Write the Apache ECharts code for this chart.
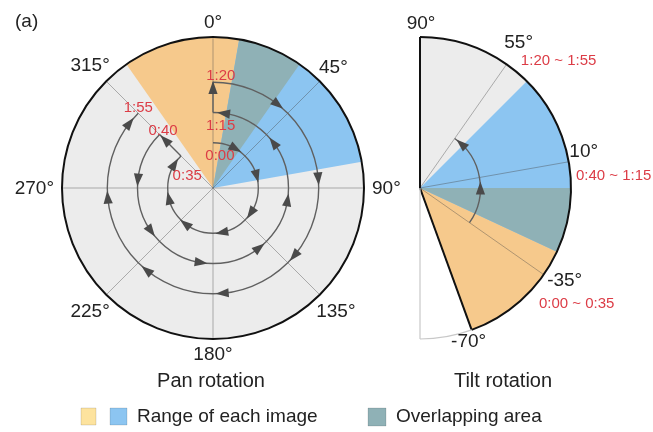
<!DOCTYPE html>
<html><head><meta charset="utf-8">
<script src="https://cdn.jsdelivr.net/npm/echarts@6/dist/echarts.min.js"></script>
<style>html,body{margin:0;padding:0;background:#fff}#c{width:653px;height:432px}</style>
</head><body><div id="c"></div>
<script>
// ---------------- data ----------------
// Pan rotation (compass degrees, clockwise from north)
const panTicks = [0, 45, 90, 135, 180, 225, 270, 315];
const panFullRange = [0, 360];
const panImageA = [-35, 35];     // 0:00 ~ 0:35 image range
const panImageB = [10, 80];      // 0:40 ~ 1:15 image range
const panOverlap = [10, 35];
// spiral path: [ring radius (fraction), start angle, end angle]
const spiralArcs = [[0.3, 0, 315], [0.5, 315, 0], [0.7, 0, 315]];
// radial jumps: [angle, from radius, to radius]
const spiralRadials = [[315, 0.3, 0.5], [0, 0.5, 0.7]];
const innerArrows = [30, 75, 124, 169, 218, 257, 302];
const midArrows = [8, 53, 99, 142, 189, 235, 276];
const outerArrows = [38, 85, 130, 175, 219, 265, 308];
const radialArrows = [[315, 0.45], [0, 0.665]];
const panTimeLabels = ['0:00', '0:35', '0:40', '1:15', '1:20', '1:55'];
const panTimeAnchors = [[0.22, 12], [0.19, 296], [0.505, 319], [0.415, 7], [0.745, 4], [0.725, 317]];

// Tilt rotation (degrees above horizontal)
const tiltRange = [-70, 90];
const tiltHidden = [-90, -70];
const tiltImageA = [-70, 0];     // 0:00 ~ 0:35
const tiltImageB = [-25, 45];    // 0:40 ~ 1:15
const tiltOverlap = [-25, 0];
const tiltTicks = [90, 55, 10, -35, -70];
const tiltTickLabels = ['90°', '55°', '10°', '-35°', '-70°'];
const tiltTimeLabels = ['', '1:20 ~ 1:55', '0:40 ~ 1:15', '0:00 ~ 0:35', ''];
const tiltArc = [0.4, -35, 55];
const tiltArrows = [0, 47];

const titles = ['Pan rotation', 'Tilt rotation'];
const legendLabels = ['Range of each image', 'Overlapping area'];

// ---------------- styles / layout ----------------
const FONT = 'Liberation Sans, Arial, Helvetica, sans-serif';
const C = {gray: '#ececec', orange: '#f6c98c', blue: '#8cc5f1', teal: '#8fb1b6', yellow: '#fde39e',
  red: '#dc3c46', line: '#606060', arrow: '#4a4a4a', text: '#222222'};
const tiltLabelOffsets = [[1, -13], [12, -22], [15, -10], [21, 6], [-3, 12]];
const tiltTimeOffsets = [[0, 0], [52, -3], [45, 14], [33, 29], [0, 0]];

const measureCtx = document.createElement('canvas').getContext('2d');
function textWidth(t, size) { measureCtx.font = size + 'px ' + FONT; return measureCtx.measureText(t).width; }

function helpers(params, api) {
  const cs = params.coordSys, cx = cs.cx, cy = cs.cy;
  const P = (r, a) => api.coord([r, a]);
  const canv = (a) => { const p = P(1, a); return Math.atan2(p[1] - cy, p[0] - cx); };
  const R = (r) => { const p = P(r, 0); return Math.hypot(p[0] - cx, p[1] - cy); };
  let d = canv(1) - canv(0);
  while (d > Math.PI) d -= 2 * Math.PI;
  while (d < -Math.PI) d += 2 * Math.PI;
  const k = d;
  const span = (a1, a2) => ({startAngle: canv(a1), endAngle: canv(a1) + (a2 - a1) * k, clockwise: (a2 - a1) * k > 0});
  return {cx, cy, P, R, span};
}
function arrowHead(p, q, len, hw, fill) {
  let ux = q[0] - p[0], uy = q[1] - p[1];
  const L = Math.hypot(ux, uy); ux /= L; uy /= L;
  const tip = [p[0] + ux * len / 2, p[1] + uy * len / 2];
  const b1 = [p[0] - ux * len / 2 - uy * hw, p[1] - uy * len / 2 + ux * hw];
  const b2 = [p[0] - ux * len / 2 + uy * hw, p[1] - uy * len / 2 - ux * hw];
  return {type: 'polygon', shape: {points: [tip, b1, b2]}, style: {fill: fill}};
}
function sectorSeries(polarIndex, data, colors) {
  return {type: 'custom', coordinateSystem: 'polar', polarIndex, z: 1, silent: true, data,
    renderItem(params, api) {
      const h = helpers(params, api);
      return {type: 'sector', shape: Object.assign({cx: h.cx, cy: h.cy, r0: 0, r: h.R(1)}, h.span(api.value(0), api.value(1))),
        style: {fill: colors[params.dataIndex]}};
    }};
}
function arcSeries(polarIndex, data, z) {
  return {type: 'custom', coordinateSystem: 'polar', polarIndex, z, silent: true, data,
    renderItem(params, api) {
      const h = helpers(params, api);
      return {type: 'arc', shape: Object.assign({cx: h.cx, cy: h.cy, r: h.R(api.value(0))}, h.span(api.value(1), api.value(2))),
        style: {stroke: C.line, lineWidth: 1.4, fill: null}};
    }};
}
function arrowSeries(polarIndex, data, z) {
  return {type: 'custom', coordinateSystem: 'polar', polarIndex, z, silent: true, data,
    renderItem(params, api) {
      const h = helpers(params, api);
      const r = api.value(0), a = api.value(1), dir = api.value(2), radial = api.value(3);
      const p = h.P(r, a);
      const q = radial ? h.P(r + 0.02, a) : h.P(r, a + dir);
      return arrowHead(p, q, 13, 4.6, C.arrow);
    }};
}

const panArrowData = [];
[innerArrows, midArrows, outerArrows].forEach((list, i) => {
  const arc = spiralArcs[i]; const dir = Math.sign(arc[2] - arc[1]);
  list.forEach(a => panArrowData.push([arc[0], a, dir, 0]));
});
radialArrows.forEach(([a, r]) => panArrowData.push([r, a, 1, 1]));
const tiltArrowData = tiltArrows.map(a => [tiltArc[0], a, Math.sign(tiltArc[2] - tiltArc[1]), 0]);

const chart = echarts.init(document.getElementById('c'), null, {renderer: 'canvas'});
chart.setOption({
  animation: false,
  backgroundColor: '#ffffff',
  polar: [{center: [213, 188], radius: 151}, {center: [420, 188], radius: 151}],
  angleAxis: [
    {polarIndex: 0, type: 'value', min: 0, max: 360, interval: 45, startAngle: 90, clockwise: true, z: 3,
      axisLine: {lineStyle: {color: '#111', width: 2}}, axisTick: {show: false},
      axisLabel: {show: false},
      splitLine: {show: true, lineStyle: {color: 'rgba(70,70,70,0.4)', width: 1}}},
    {polarIndex: 1, type: 'value', min: -180, max: 180, startAngle: 180, clockwise: false,
      axisLine: {show: false}, axisTick: {show: false}, axisLabel: {show: false}, splitLine: {show: false}}
  ],
  radiusAxis: [
    {polarIndex: 0, type: 'value', min: 0, max: 1, axisLine: {show: false}, axisTick: {show: false}, axisLabel: {show: false}, splitLine: {show: false}},
    {polarIndex: 1, type: 'value', min: 0, max: 1, axisLine: {show: false}, axisTick: {show: false}, axisLabel: {show: false}, splitLine: {show: false}}
  ],
  series: [
    // ---- pan ----
    sectorSeries(0, [panFullRange, panImageA, panImageB, panOverlap], [C.gray, C.orange, C.blue, C.teal]),
    arcSeries(0, spiralArcs, 5),
    {type: 'custom', coordinateSystem: 'polar', polarIndex: 0, z: 5, silent: true, data: spiralRadials,
      renderItem(params, api) {
        const h = helpers(params, api);
        const p1 = h.P(api.value(1), api.value(0)), p2 = h.P(api.value(2), api.value(0));
        return {type: 'line', shape: {x1: p1[0], y1: p1[1], x2: p2[0], y2: p2[1]}, style: {stroke: C.line, lineWidth: 1.4}};
      }},
    arrowSeries(0, panArrowData, 6),
    {type: 'custom', coordinateSystem: 'polar', polarIndex: 0, z: 7, silent: true, data: panTimeAnchors,
      renderItem(params, api) {
        const h = helpers(params, api);
        const p = h.P(api.value(0), api.value(1));
        return {type: 'text', x: p[0], y: p[1], style: {text: panTimeLabels[params.dataIndex], fill: C.red,
          fontSize: 15, fontFamily: FONT, align: 'center', verticalAlign: 'middle'}};
      }},
    // pan angle labels
    {type: 'custom', coordinateSystem: 'polar', polarIndex: 0, z: 7, silent: true, data: panTicks.map(a => [1, a]),
      renderItem(params, api) {
        const h = helpers(params, api);
        const txt = api.value(1) + '°';
        const p = h.P(1, api.value(1));
        let ux = p[0] - h.cx, uy = p[1] - h.cy; const L = Math.hypot(ux, uy); ux /= L; uy /= L;
        const w = textWidth(txt, 19), hh = 14;
        const d = 8 + Math.sqrt(Math.pow(ux * w / 2, 2) + Math.pow(uy * hh / 2, 2));
        return {type: 'text', x: p[0] + ux * d, y: p[1] + uy * d + 0.5, style: {text: txt, fill: C.text,
          fontSize: 19, fontFamily: FONT, align: 'center', verticalAlign: 'middle'}};
      }},
    // ---- tilt ----
    sectorSeries(1, [tiltRange, tiltImageA, tiltImageB, tiltOverlap], [C.gray, C.orange, C.blue, C.teal]),
    {type: 'custom', coordinateSystem: 'polar', polarIndex: 1, z: 2, silent: true, data: tiltTicks.map(a => [1, a]),
      renderItem(params, api) {
        const h = helpers(params, api);
        const p = h.P(1, api.value(1));
        return {type: 'line', shape: {x1: h.cx, y1: h.cy, x2: p[0], y2: p[1]}, style: {stroke: 'rgba(70,70,70,0.4)', lineWidth: 1}};
      }},
    {type: 'custom', coordinateSystem: 'polar', polarIndex: 1, z: 3, silent: true, data: [tiltRange, tiltHidden],
      renderItem(params, api) {
        const h = helpers(params, api);
        const a1 = api.value(0), a2 = api.value(1);
        const main = params.dataIndex === 0;
        const stroke = main ? '#111' : '#c8c8c8', lw = main ? 2 : 1.2;
        const pa = h.P(1, a1), pb = h.P(1, a2);
        const children = [
          {type: 'arc', shape: Object.assign({cx: h.cx, cy: h.cy, r: h.R(1)}, h.span(a1, a2)), style: {stroke, lineWidth: lw, fill: null}},
          {type: 'line', shape: {x1: h.cx, y1: h.cy, x2: pa[0], y2: pa[1]}, style: {stroke, lineWidth: lw}}
        ];
        if (main) children.push({type: 'line', shape: {x1: h.cx, y1: h.cy, x2: pb[0], y2: pb[1]}, style: {stroke, lineWidth: lw}});
        return {type: 'group', children};
      }},
    arcSeries(1, [tiltArc], 5),
    arrowSeries(1, tiltArrowData, 6),
    {type: 'custom', coordinateSystem: 'polar', polarIndex: 1, z: 7, silent: true, data: tiltTicks.map(a => [1, a]),
      renderItem(params, api) {
        const h = helpers(params, api);
        const i = params.dataIndex;
        const p = h.P(1, api.value(1));
        const o = tiltLabelOffsets[i], t = tiltTimeOffsets[i];
        const children = [{type: 'text', x: p[0] + o[0], y: p[1] + o[1], style: {text: tiltTickLabels[i], fill: C.text,
          fontSize: 19, fontFamily: FONT, align: 'center', verticalAlign: 'middle'}}];
        if (tiltTimeLabels[i]) children.push({type: 'text', x: p[0] + t[0], y: p[1] + t[1], style: {text: tiltTimeLabels[i],
          fill: C.red, fontSize: 15, fontFamily: FONT, align: 'center', verticalAlign: 'middle'}});
        return {type: 'group', children};
      }}
  ],
  graphic: [
    {type: 'text', left: 15, top: 12, style: {text: '(a)', fontSize: 19, fontFamily: FONT, fill: C.text}},
    {type: 'text', x: 211, y: 381, style: {text: titles[0], fontSize: 20, fontFamily: FONT, fill: C.text, align: 'center', verticalAlign: 'middle'}},
    {type: 'text', x: 503, y: 381, style: {text: titles[1], fontSize: 20, fontFamily: FONT, fill: C.text, align: 'center', verticalAlign: 'middle'}},
    {type: 'rect', shape: {x: 81, y: 408, width: 15, height: 17}, style: {fill: C.yellow, stroke: 'rgba(0,0,0,0.12)', lineWidth: 1}},
    {type: 'rect', shape: {x: 110, y: 408, width: 17, height: 17}, style: {fill: C.blue, stroke: 'rgba(0,0,0,0.12)', lineWidth: 1}},
    {type: 'text', x: 137, y: 417, style: {text: legendLabels[0], fontSize: 19, fontFamily: FONT, fill: C.text, verticalAlign: 'middle'}},
    {type: 'rect', shape: {x: 368, y: 408, width: 18, height: 18}, style: {fill: C.teal, stroke: 'rgba(0,0,0,0.12)', lineWidth: 1}},
    {type: 'text', x: 396, y: 417, style: {text: legendLabels[1], fontSize: 19, fontFamily: FONT, fill: C.text, verticalAlign: 'middle'}}
  ]
});
</script></body></html>
